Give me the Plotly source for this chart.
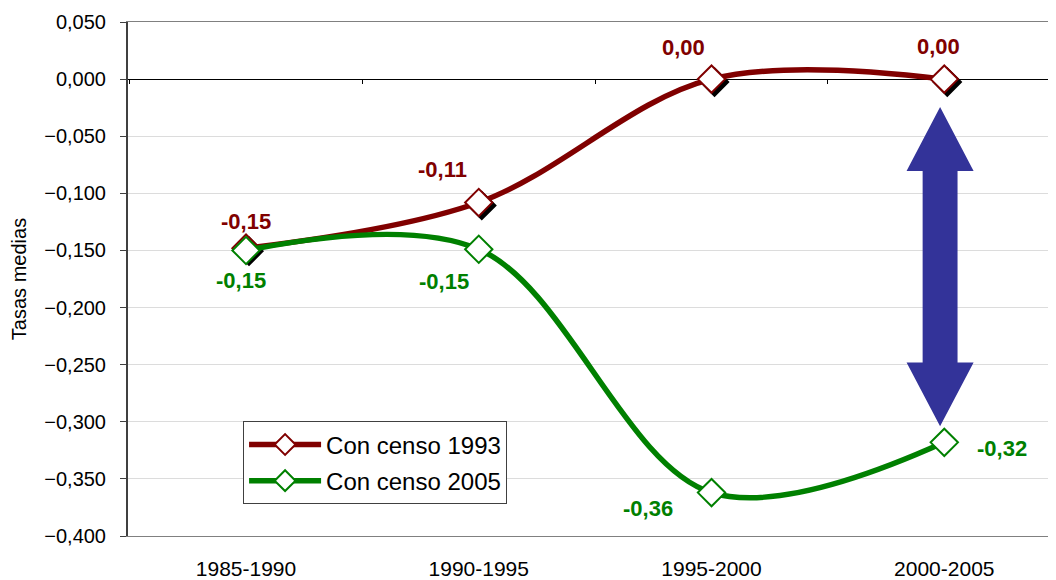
import plotly.graph_objects as go

# Data
periods = ["1985-1990", "1990-1995", "1995-2000", "2000-2005"]
censo_1993 = [-0.148, -0.108, 0.0, 0.0]
censo_2005 = [-0.150, -0.149, -0.362, -0.318]
y_ticks = [0.05, 0.0, -0.05, -0.10, -0.15, -0.20, -0.25, -0.30, -0.35, -0.40]

RED = "#800000"
GREEN = "#008000"
BLUE = "#333399"

X_RANGE = [-0.507, 3.48]
Y_RANGE = [-0.4, 0.05]
PX_PER_X = 233.0   # px per category
PX_PER_Y = 57.33 / 0.05  # px per unit
SHADOW_PX = 3


def fmt(v):
    return f"{v:.2f}".replace(".", ",")


fig = go.Figure()

# marker shadows (only the 1993 series has them), on a slightly shifted overlay axis
fig.add_trace(go.Scatter(
    x=periods, y=censo_1993, mode="markers", showlegend=False, hoverinfo="skip",
    marker=dict(symbol="diamond", size=21, color="black", line=dict(width=2, color="black")),
    xaxis="x2", yaxis="y2",
))

series = [("Con censo 1993", censo_1993, RED), ("Con censo 2005", censo_2005, GREEN)]
for name, vals, col in series:
    fig.add_trace(go.Scatter(
        x=periods, y=vals, name=name, legendgroup=name, mode="lines+markers",
        line=dict(color=col, width=5.5, shape="spline", smoothing=1),
        marker=dict(symbol="diamond", size=21, color="white", line=dict(width=2, color=col)),
        xaxis="x3", yaxis="y3",
    ))

# data labels (offsets in px relative to each point)
label_shift_1993 = [(0, 27), (-36, 33), (-28, 32), (-6, 33)]
label_shift_2005 = [(-5, -30), (-35, -32), (-64, -16), (58, -6)]
for vals, shifts, col in [(censo_1993, label_shift_1993, RED), (censo_2005, label_shift_2005, GREEN)]:
    for p, v, (dx, dy) in zip(periods, vals, shifts):
        fig.add_annotation(
            x=p, y=v, xref="x", yref="y", text=f"<b>{fmt(v)}</b>", showarrow=False,
            xshift=dx, yshift=dy, font=dict(size=22, color=col, family="Arial"),
        )

# blue double-headed arrow between the two series at 2000-2005
ARROW_X = 2.982
ARROW_TOP = -0.0245
ARROW_BOTTOM = -0.304
HEAD_H = 0.056
HEAD_W = 0.144
SHAFT_W = 0.075
path = (
    f"M {ARROW_X},{ARROW_TOP} "
    f"L {ARROW_X + HEAD_W},{ARROW_TOP - HEAD_H} L {ARROW_X + SHAFT_W},{ARROW_TOP - HEAD_H} "
    f"L {ARROW_X + SHAFT_W},{ARROW_BOTTOM + HEAD_H} L {ARROW_X + HEAD_W},{ARROW_BOTTOM + HEAD_H} "
    f"L {ARROW_X},{ARROW_BOTTOM} "
    f"L {ARROW_X - HEAD_W},{ARROW_BOTTOM + HEAD_H} L {ARROW_X - SHAFT_W},{ARROW_BOTTOM + HEAD_H} "
    f"L {ARROW_X - SHAFT_W},{ARROW_TOP - HEAD_H} L {ARROW_X - HEAD_W},{ARROW_TOP - HEAD_H} Z"
)
fig.add_shape(type="path", path=path, xref="x", yref="y",
              fillcolor=BLUE, line=dict(width=0), layer="above")

dx = SHADOW_PX / PX_PER_X
dy = SHADOW_PX / PX_PER_Y
zero_pos = (0 - Y_RANGE[0]) / (Y_RANGE[1] - Y_RANGE[0])

# the page body has an 8px margin, so the figure is sized/offset to compensate
fig.update_layout(
    width=1048, height=572,
    margin=dict(l=120, r=0, t=14, b=42),
    paper_bgcolor="white", plot_bgcolor="white",
    separators=",.",
    font=dict(family="Arial", size=20, color="black"),
    showlegend=True,
    legend=dict(
        x=0.124, y=0.223, xanchor="left", yanchor="top",
        bgcolor="white", bordercolor="#404040", borderwidth=1,
        font=dict(size=24, family="Arial", color="black"),
        tracegroupgap=2, itemwidth=72,
    ),
    xaxis=dict(
        type="category", categoryarray=periods, range=X_RANGE,
        showgrid=False, showline=True, linecolor="#808080", linewidth=1, mirror=True,
        ticks="", tickfont=dict(size=21), ticklabelstandoff=14,
        zeroline=False,
    ),
    yaxis=dict(
        range=Y_RANGE, tickvals=y_ticks, tickformat=".3f",
        showgrid=True, gridcolor="#dcdcdc", gridwidth=1,
        zeroline=True, zerolinecolor="black", zerolinewidth=1,
        showline=True, linecolor="#404040", linewidth=2,
        ticks="outside", ticklen=6, tickcolor="#404040",
        tickfont=dict(size=20), ticklabelstandoff=10,
        title=dict(text="Tasas medias", font=dict(size=20), standoff=14),
    ),
    xaxis2=dict(type="category", categoryarray=periods, overlaying="x",
                range=[X_RANGE[0] - dx, X_RANGE[1] - dx], visible=False),
    yaxis2=dict(overlaying="y", range=[Y_RANGE[0] + dy, Y_RANGE[1] + dy], visible=False),
    # category-boundary tick marks along the zero line
    xaxis3=dict(type="category", categoryarray=periods, overlaying="x",
                range=X_RANGE, anchor="free", position=zero_pos,
                showline=False, showgrid=False, zeroline=False, showticklabels=False,
                ticks="outside", tickson="boundaries", ticklen=4, tickcolor="black", tickwidth=1),
    yaxis3=dict(overlaying="y", range=Y_RANGE, visible=False),
)

fig.write_html("out.html")
